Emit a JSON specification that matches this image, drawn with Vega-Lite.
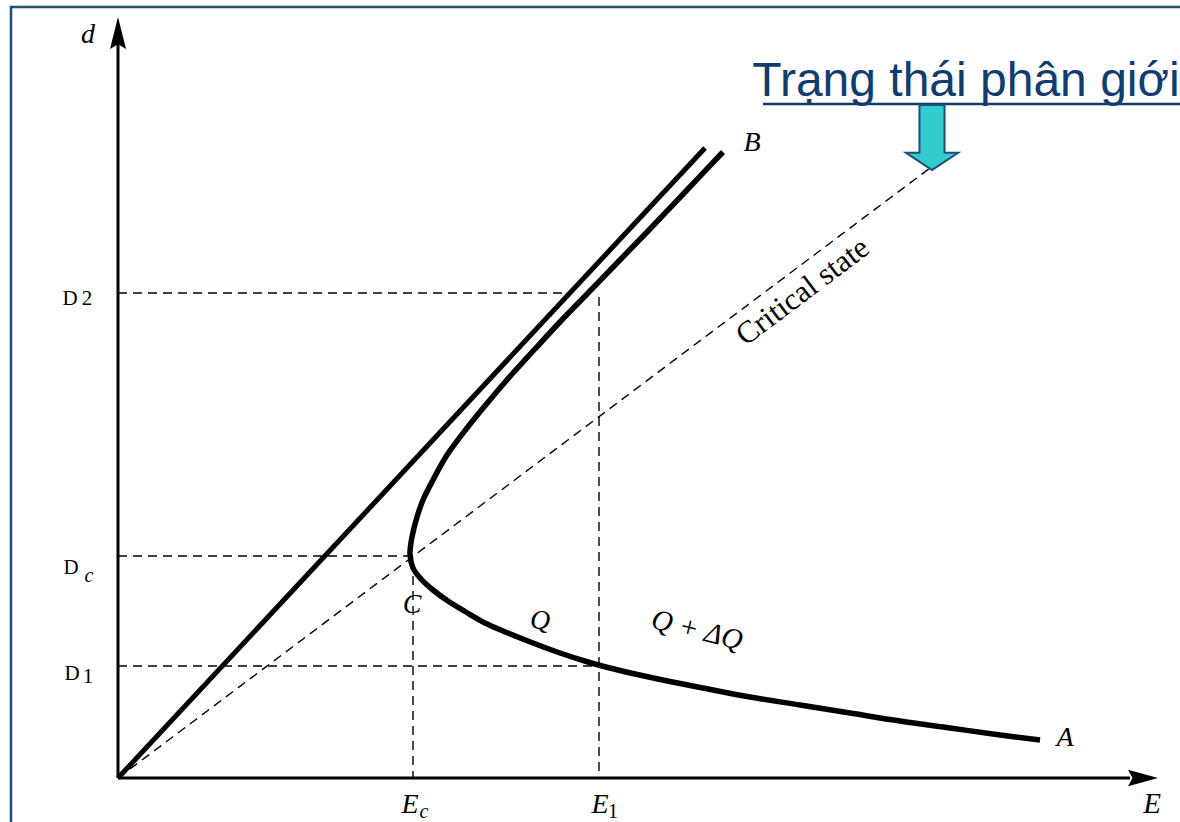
{
  "$schema": "https://vega.github.io/schema/vega-lite/v6.json",
  "width": 1180,
  "height": 822,
  "padding": 0,
  "autosize": "none",
  "background": "#ffffff",
  "config": {"view": {"stroke": null}},
  "datasets": {
    "frame": [
      {"o": 1, "E": -107, "d": -44},
      {"o": 2, "E": -107, "d": 771},
      {"o": 3, "E": 1062, "d": 771}
    ],
    "axes": [
      {"seg": "y", "o": 1, "E": 0, "d": 0},
      {"seg": "y", "o": 2, "E": 0, "d": 738},
      {"seg": "x", "o": 1, "E": 0, "d": 0},
      {"seg": "x", "o": 2, "E": 1012, "d": 0}
    ],
    "straight": [
      {"o": 1, "E": 0, "d": 0},
      {"o": 2, "E": 587, "d": 630}
    ],
    "curve": [
      {"o": 1, "E": 605, "d": 626},
      {"o": 2, "E": 569, "d": 588},
      {"o": 3, "E": 531, "d": 548},
      {"o": 4, "E": 499, "d": 515},
      {"o": 5, "E": 470, "d": 485},
      {"o": 6, "E": 441, "d": 455},
      {"o": 7, "E": 416, "d": 428},
      {"o": 8, "E": 395, "d": 405},
      {"o": 9, "E": 371, "d": 377},
      {"o": 10, "E": 349, "d": 350},
      {"o": 11, "E": 329, "d": 323},
      {"o": 12, "E": 315, "d": 298},
      {"o": 13, "E": 305, "d": 278},
      {"o": 14, "E": 299, "d": 261},
      {"o": 15, "E": 294, "d": 241},
      {"o": 16, "E": 292, "d": 224},
      {"o": 17, "E": 295, "d": 210},
      {"o": 18, "E": 303, "d": 199},
      {"o": 19, "E": 315, "d": 188},
      {"o": 20, "E": 330, "d": 177},
      {"o": 21, "E": 348, "d": 166},
      {"o": 22, "E": 367, "d": 155},
      {"o": 23, "E": 390, "d": 145},
      {"o": 24, "E": 415, "d": 135},
      {"o": 25, "E": 442, "d": 125},
      {"o": 26, "E": 470, "d": 116},
      {"o": 27, "E": 500, "d": 108},
      {"o": 28, "E": 540, "d": 99},
      {"o": 29, "E": 585, "d": 90},
      {"o": 30, "E": 632, "d": 81},
      {"o": 31, "E": 682, "d": 73},
      {"o": 32, "E": 732, "d": 65},
      {"o": 33, "E": 782, "d": 57},
      {"o": 34, "E": 832, "d": 50},
      {"o": 35, "E": 882, "d": 43},
      {"o": 36, "E": 922, "d": 38}
    ],
    "dashed": [
      {"seg": "critical", "o": 1, "E": 0, "d": 0},
      {"seg": "critical", "o": 2, "E": 812, "d": 610},
      {"seg": "D2", "o": 1, "E": 0, "d": 485},
      {"seg": "D2", "o": 2, "E": 452, "d": 485},
      {"seg": "E1", "o": 1, "E": 481, "d": 481},
      {"seg": "E1", "o": 2, "E": 481, "d": 0},
      {"seg": "Dc", "o": 1, "E": 0, "d": 222},
      {"seg": "Dc", "o": 2, "E": 292, "d": 222},
      {"seg": "Ec", "o": 1, "E": 295, "d": 217},
      {"seg": "Ec", "o": 2, "E": 295, "d": 0},
      {"seg": "D1", "o": 1, "E": 0, "d": 112},
      {"seg": "D1", "o": 2, "E": 480, "d": 112}
    ],
    "italicBig": [
      {"t": "d", "E": -30, "d": 743},
      {"t": "E", "E": 292, "d": -27},
      {"t": "E", "E": 482, "d": -27},
      {"t": "B", "E": 634, "d": 635},
      {"t": "A", "E": 947, "d": 40},
      {"t": "C", "E": 294, "d": 173},
      {"t": "Q", "E": 422, "d": 157}
    ],
    "subItalic": [
      {"t": "c", "E": 306, "d": -34},
      {"t": "c", "E": -29, "d": 202}
    ],
    "subPlain": [
      {"t": "1", "E": 495, "d": -34}
    ],
    "dLabels": [
      {"t": "D", "E": -48, "d": 479},
      {"t": "2", "E": -31, "d": 479},
      {"t": "D", "E": -47, "d": 210},
      {"t": "D", "E": -46, "d": 104},
      {"t": "1", "E": -30, "d": 101}
    ]
  },
  "layer": [
    {
      "data": {"name": "frame"},
      "mark": {"type": "line", "color": "#1F4E79", "strokeWidth": 2.5},
      "encoding": {
        "x": {"field": "E", "type": "quantitative", "scale": {"domain": [-118, 1062], "zero": false, "nice": false}, "axis": null},
        "y": {"field": "d", "type": "quantitative", "scale": {"domain": [-44, 778], "zero": false, "nice": false}, "axis": null},
        "order": {"field": "o"}
      }
    },
    {
      "data": {"name": "dashed"},
      "mark": {"type": "line", "color": "#000000", "strokeWidth": 1.4, "strokeDash": [9, 6]},
      "encoding": {
        "x": {"field": "E", "type": "quantitative"},
        "y": {"field": "d", "type": "quantitative"},
        "detail": {"field": "seg"},
        "order": {"field": "o"}
      }
    },
    {
      "data": {"name": "axes"},
      "mark": {"type": "line", "color": "#000000", "strokeWidth": 3},
      "encoding": {
        "x": {"field": "E", "type": "quantitative"},
        "y": {"field": "d", "type": "quantitative"},
        "detail": {"field": "seg"},
        "order": {"field": "o"}
      }
    },
    {
      "data": {"values": [{"E": 0, "d": 745}]},
      "mark": {"type": "point", "shape": "M 0 -1 L 0.5 1 L 0 0.7 L -0.5 1 Z", "size": 1024, "filled": true, "color": "#000000", "opacity": 1},
      "encoding": {
        "x": {"field": "E", "type": "quantitative"},
        "y": {"field": "d", "type": "quantitative"}
      }
    },
    {
      "data": {"values": [{"E": 1025, "d": 0}]},
      "mark": {"type": "point", "shape": "M 1 0 L -1 -0.55 L -0.7 0 L -1 0.55 Z", "size": 900, "filled": true, "color": "#000000", "opacity": 1},
      "encoding": {
        "x": {"field": "E", "type": "quantitative"},
        "y": {"field": "d", "type": "quantitative"}
      }
    },
    {
      "data": {"name": "straight"},
      "mark": {"type": "line", "color": "#000000", "strokeWidth": 5},
      "encoding": {
        "x": {"field": "E", "type": "quantitative"},
        "y": {"field": "d", "type": "quantitative"},
        "order": {"field": "o"}
      }
    },
    {
      "data": {"name": "curve"},
      "mark": {"type": "line", "color": "#000000", "strokeWidth": 5.5, "interpolate": "catmull-rom"},
      "encoding": {
        "x": {"field": "E", "type": "quantitative"},
        "y": {"field": "d", "type": "quantitative"},
        "order": {"field": "o"}
      }
    },
    {
      "data": {"name": "italicBig"},
      "mark": {"type": "text", "font": "Liberation Serif", "fontStyle": "italic", "fontSize": 28, "color": "#000000", "align": "center", "baseline": "middle"},
      "encoding": {
        "x": {"field": "E", "type": "quantitative"},
        "y": {"field": "d", "type": "quantitative"},
        "text": {"field": "t"}
      }
    },
    {
      "data": {"values": [{"t": "E", "E": 1034, "d": -26}]},
      "mark": {"type": "text", "font": "Liberation Serif", "fontStyle": "italic", "fontSize": 29, "color": "#000000", "align": "center", "baseline": "middle"},
      "encoding": {
        "x": {"field": "E", "type": "quantitative"},
        "y": {"field": "d", "type": "quantitative"},
        "text": {"field": "t"}
      }
    },
    {
      "data": {"name": "subItalic"},
      "mark": {"type": "text", "font": "Liberation Serif", "fontStyle": "italic", "fontSize": 20, "color": "#000000", "align": "center", "baseline": "middle"},
      "encoding": {
        "x": {"field": "E", "type": "quantitative"},
        "y": {"field": "d", "type": "quantitative"},
        "text": {"field": "t"}
      }
    },
    {
      "data": {"name": "subPlain"},
      "mark": {"type": "text", "font": "Liberation Serif", "fontSize": 20, "color": "#000000", "align": "center", "baseline": "middle"},
      "encoding": {
        "x": {"field": "E", "type": "quantitative"},
        "y": {"field": "d", "type": "quantitative"},
        "text": {"field": "t"}
      }
    },
    {
      "data": {"name": "dLabels"},
      "mark": {"type": "text", "font": "Liberation Serif", "fontSize": 21, "color": "#000000", "align": "center", "baseline": "middle"},
      "encoding": {
        "x": {"field": "E", "type": "quantitative"},
        "y": {"field": "d", "type": "quantitative"},
        "text": {"field": "t"}
      }
    },
    {
      "data": {"values": [{"t": "Q + ΔQ", "E": 579, "d": 148}]},
      "mark": {"type": "text", "font": "Liberation Serif", "fontStyle": "italic", "fontSize": 29, "angle": 14, "color": "#000000", "align": "center", "baseline": "middle"},
      "encoding": {
        "x": {"field": "E", "type": "quantitative"},
        "y": {"field": "d", "type": "quantitative"},
        "text": {"field": "t"}
      }
    },
    {
      "data": {"values": [{"t": "Critical state", "E": 685, "d": 486}]},
      "mark": {"type": "text", "font": "Liberation Serif", "fontSize": 31, "angle": -37, "color": "#000000", "align": "center", "baseline": "middle"},
      "encoding": {
        "x": {"field": "E", "type": "quantitative"},
        "y": {"field": "d", "type": "quantitative"},
        "text": {"field": "t"}
      }
    },
    {
      "data": {"values": [{"t": "Trạng thái phân giới", "E": 848, "d": 696}]},
      "mark": {"type": "text", "font": "Liberation Sans", "fontSize": 48, "color": "#103D6E", "align": "center", "baseline": "middle"},
      "encoding": {
        "x": {"field": "E", "type": "quantitative"},
        "y": {"field": "d", "type": "quantitative"},
        "text": {"field": "t"}
      }
    },
    {
      "data": {"values": [{"o": 1, "E": 645, "d": 674}, {"o": 2, "E": 1062, "d": 674}]},
      "mark": {"type": "line", "color": "#103D6E", "strokeWidth": 2.5},
      "encoding": {
        "x": {"field": "E", "type": "quantitative"},
        "y": {"field": "d", "type": "quantitative"},
        "order": {"field": "o"}
      }
    },
    {
      "data": {"values": [{"E": 814, "d": 641}]},
      "mark": {"type": "point", "shape": "M -0.38 -0.97 L 0.38 -0.97 L 0.38 0.48 L 0.79 0.48 L 0 1 L -0.79 0.48 L -0.38 0.48 Z", "size": 4356, "filled": true, "color": "#33CCCC", "stroke": "#1F4E79", "strokeWidth": 2, "opacity": 1},
      "encoding": {
        "x": {"field": "E", "type": "quantitative"},
        "y": {"field": "d", "type": "quantitative"}
      }
    }
  ]
}
